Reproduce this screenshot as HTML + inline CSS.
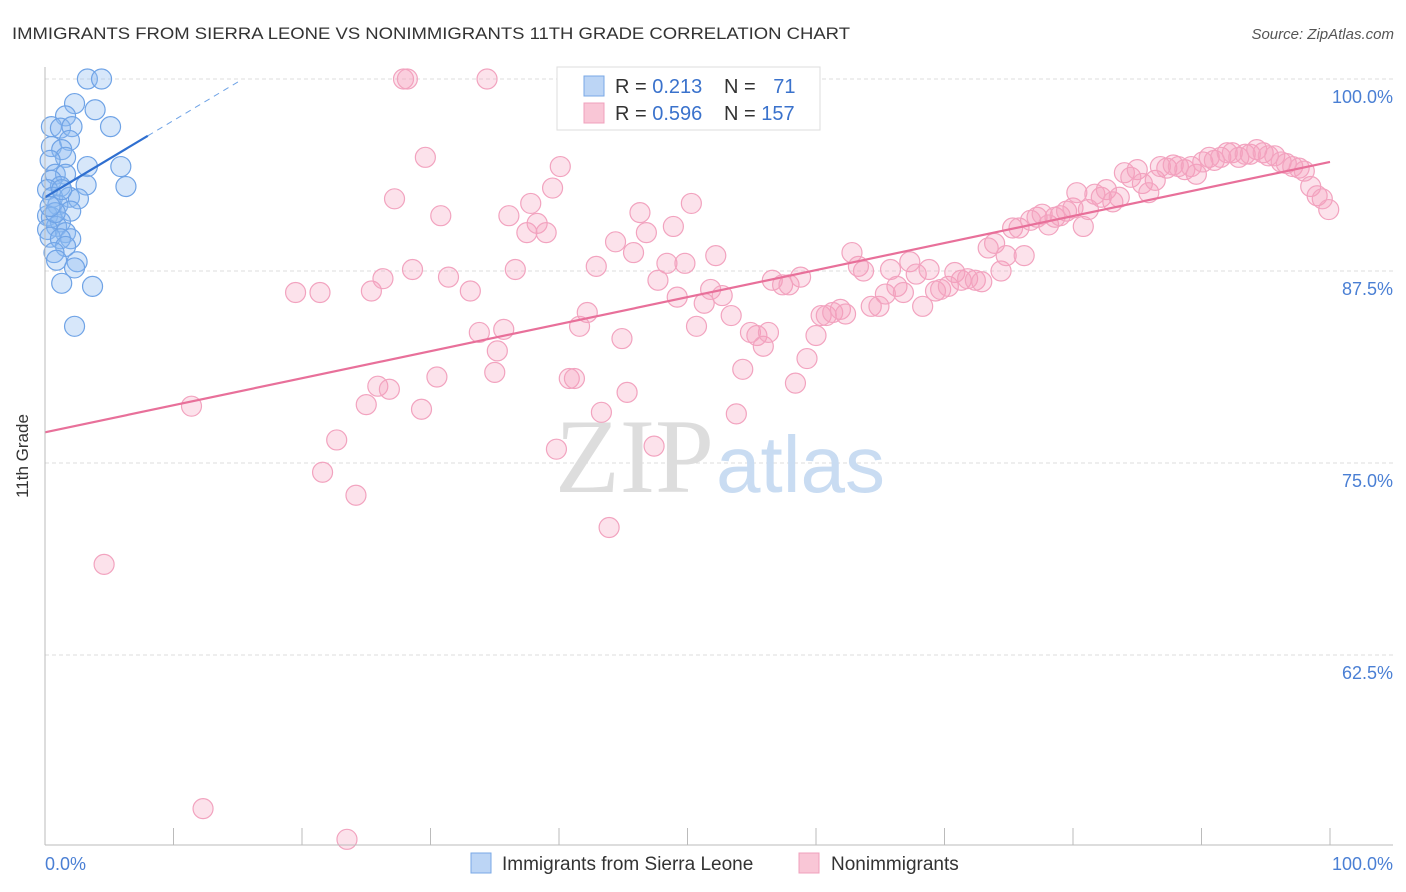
<!DOCTYPE html>
<html><head><meta charset="utf-8">
<style>
body{margin:0;background:#fff;font-family:"Liberation Sans",sans-serif;}
svg{display:block}
</style></head>
<body>
<svg width="1406" height="892" viewBox="0 0 1406 892" id="chart">
<text x="12" y="39" font-size="17" fill="#333" textLength="838" lengthAdjust="spacingAndGlyphs">IMMIGRANTS FROM SIERRA LEONE VS NONIMMIGRANTS 11TH GRADE CORRELATION CHART</text>
<text x="1394" y="39" font-size="15" fill="#555" font-style="italic" text-anchor="end">Source: ZipAtlas.com</text>
<g id="grid"></g>
<g id="ticks"></g>
<text x="714" y="492" font-size="106" font-family="Liberation Serif,serif" fill="#ddd" text-anchor="end">ZIP</text>
<text x="716" y="492" font-size="80" fill="#c9dcf2">atlas</text>
<g id="pink"></g>
<g id="blue"></g>
<g id="lines"></g>
<line x1="45" y1="67" x2="45" y2="845" stroke="#bbb"/>
<line x1="45" y1="845" x2="1393" y2="845" stroke="#bbb"/>
<g id="xticks"></g>
<text x="28" y="456" font-size="17" fill="#333" text-anchor="middle" transform="rotate(-90 28 456)">11th Grade</text>
<text x="45" y="870" font-size="18" fill="#4a7fd4">0.0%</text>
<text x="1393" y="870" font-size="18" fill="#4a7fd4" text-anchor="end">100.0%</text>
<g>
<rect x="557" y="67" width="263" height="63" fill="#fff" stroke="#ddd"/>
<rect x="584" y="76" width="20" height="20" fill="#bcd5f5" stroke="#7aa8e6"/>
<rect x="584" y="103" width="20" height="20" fill="#f9c6d6" stroke="#f0a0bc"/>
<text x="615" y="93" font-size="20" fill="#333">R = <tspan fill="#3a72cc">0.213</tspan></text>
<text x="724" y="93" font-size="20" fill="#333">N = <tspan fill="#3a72cc" dx="12">71</tspan></text>
<text x="615" y="120" font-size="20" fill="#333">R = <tspan fill="#3a72cc">0.596</tspan></text>
<text x="724" y="120" font-size="20" fill="#333">N = <tspan fill="#3a72cc">157</tspan></text>
</g>
<g>
<rect x="471" y="853" width="20" height="20" fill="#bcd5f5" stroke="#7aa8e6"/>
<text x="502" y="870" font-size="19" fill="#333">Immigrants from Sierra Leone</text>
<rect x="799" y="853" width="20" height="20" fill="#f9c6d6" stroke="#f0a0bc"/>
<text x="831" y="870" font-size="19" fill="#333">Nonimmigrants</text>
</g>
</svg>
<script>
const yTicks=[100,87.5,75,62.5];
const yTickLabels=["100.0%","87.5%","75.0%","62.5%"];
const xTicks=[10,20,30,40,50,60,70,80,90,100];
const pinkX=[11.4,4.6,12.3,23.5,19.5,21.4,21.6,22.7,24.2,25.0,25.4,25.9,26.3,26.8,27.2,27.9,28.2,28.6,29.3,29.6,30.5,30.8,31.4,33.1,33.8,34.4,35.0,35.2,35.7,36.1,36.6,37.5,37.8,38.3,39.0,39.5,39.8,40.1,40.8,41.2,41.6,42.2,42.9,43.3,43.6,43.9,44.4,44.9,45.3,45.8,46.3,46.8,47.4,47.7,48.4,48.9,49.2,49.8,50.3,50.7,51.3,51.8,52.2,52.7,53.4,53.8,54.3,54.9,55.4,55.9,56.3,56.6,57.4,57.9,58.4,58.8,59.3,60.0,60.4,60.8,61.3,61.9,62.3,62.8,63.3,63.7,64.3,64.9,65.4,65.8,66.3,66.8,67.3,67.8,68.3,68.8,69.3,69.7,70.3,70.8,71.3,71.8,72.4,72.9,73.4,73.9,74.4,74.8,75.3,75.8,76.2,76.7,77.2,77.6,78.1,78.6,79.0,79.5,80.0,80.3,80.8,81.2,81.7,82.2,82.6,83.1,83.6,84.0,84.5,85.0,85.4,85.9,86.4,86.8,87.3,87.8,88.2,88.7,89.2,89.6,90.1,90.6,91.0,91.5,92.0,92.4,92.9,93.4,93.8,94.3,94.8,95.2,95.7,96.2,96.6,97.1,97.6,98.0,98.5,99.0,99.4,99.9];
const pinkY=[78.7,68.4,52.5,50.5,86.1,86.1,74.4,76.5,72.9,78.8,86.2,80.0,87.0,79.8,92.2,100,100,87.6,78.5,94.9,80.6,91.1,87.1,86.2,83.5,100,80.9,82.3,83.7,91.1,87.6,90.0,91.9,90.6,90.0,92.9,75.9,94.3,80.5,80.5,83.9,84.8,87.8,78.3,100,70.8,89.4,83.1,79.6,88.7,91.3,90.0,76.1,86.9,88.0,90.4,85.8,88.0,91.9,83.9,85.4,86.3,88.5,85.9,84.6,78.2,81.1,83.5,83.3,82.6,83.5,86.9,86.6,86.6,80.2,87.1,81.8,83.3,84.6,84.6,84.8,85.0,84.7,88.7,87.8,87.5,85.2,85.2,86.0,87.6,86.5,86.1,88.1,87.3,85.2,87.6,86.2,86.3,86.5,87.4,86.9,87.0,86.9,86.8,89.0,89.3,87.5,88.5,90.3,90.3,88.5,90.8,91.0,91.2,90.5,91.0,91.1,91.4,91.6,92.6,90.4,91.5,92.5,92.3,92.8,92.0,92.3,93.9,93.6,94.1,93.2,92.6,93.4,94.3,94.2,94.4,94.3,94.1,94.3,93.8,94.6,94.9,94.7,94.9,95.2,95.2,94.9,95.1,95.1,95.4,95.2,95.0,95.0,94.6,94.5,94.3,94.2,94.0,93.0,92.4,92.2,91.5];
const blueX=[3.3,4.4,2.3,3.9,1.6,0.5,1.2,2.1,5.1,1.9,0.5,1.3,1.6,0.4,3.3,5.9,0.8,1.6,0.5,3.2,6.3,1.2,0.2,0.6,1.9,2.6,1.0,2.0,0.2,0.5,1.2,0.9,0.2,1.6,2.0,0.4,1.2,1.6,0.7,2.5,0.9,2.3,1.3,3.7,2.3,0.8,0.4,1.3];
const blueY=[100,100,98.4,98.0,97.6,96.9,96.8,96.9,96.9,96.0,95.6,95.4,94.9,94.7,94.3,94.3,93.8,93.8,93.4,93.1,93.0,93.0,92.8,92.3,92.3,92.2,91.8,91.4,91.1,91.0,90.7,90.4,90.2,90.0,89.6,89.7,89.6,89.1,88.7,88.1,88.2,87.7,86.7,86.5,83.9,91.3,91.7,92.8];
const pinkTrend=[[0,77.0],[100,94.6]];
const blueTrend=[[0,92.3],[8.0,96.3]];
const blueTrendDash=[[8.0,96.3],[15.2,99.9]];

const X=v=>45+v*12.85;
const Y=v=>79+(100-v)*15.36;
const NS="http://www.w3.org/2000/svg";
function mk(tag,parent,attrs){const e=document.createElementNS(NS,tag);for(const k in attrs)e.setAttribute(k,attrs[k]);document.getElementById(parent).appendChild(e);return e;}
yTicks.forEach((t,i)=>{
  const l=mk('line','grid',{x1:45,x2:1393,y1:Y(t),y2:Y(t),stroke:'#ddd','stroke-dasharray':'4,3'});
  
  
  const tx=mk('text','ticks',{x:1393,y:Y(t)+24,'font-size':18,fill:'#4a7fd4','text-anchor':'end'});
  tx.textContent=yTickLabels[i];
  
  
});
xTicks.forEach(t=>{
  const l=mk('line','xticks',{x1:X(t),x2:X(t),y1:828,y2:845,stroke:'#bbb'});
  
  
});
pinkX.forEach((x,i)=>{
  const c=mk('circle','pink',{cx:X(x),cy:Y(pinkY[i]),r:10,fill:'rgba(244,160,190,0.3)',stroke:'#f2a3bf','stroke-width':1.2});
  
  
});
blueX.forEach((x,i)=>{
  const c=mk('circle','blue',{cx:X(x),cy:Y(blueY[i]),r:10,fill:'rgba(140,185,240,0.35)',stroke:'#6fa3e6','stroke-width':1.2});
  
  
});
const pl=mk('line','lines',{x1:X(pinkTrend[0][0]),y1:Y(pinkTrend[0][1]),x2:X(pinkTrend[1][0]),y2:Y(pinkTrend[1][1]),stroke:'#e8709a','stroke-width':2.2});


const bl=mk('line','lines',{x1:X(blueTrend[0][0]),y1:Y(blueTrend[0][1]),x2:X(blueTrend[1][0]),y2:Y(blueTrend[1][1]),stroke:'#2f6fd0','stroke-width':2.2});


const bd=mk('line','lines',{x1:X(blueTrendDash[0][0]),y1:Y(blueTrendDash[0][1]),x2:X(blueTrendDash[1][0]),y2:Y(blueTrendDash[1][1]),stroke:'#6fa3e6','stroke-width':1,'stroke-dasharray':'6,5'});


</script>
</body></html>
